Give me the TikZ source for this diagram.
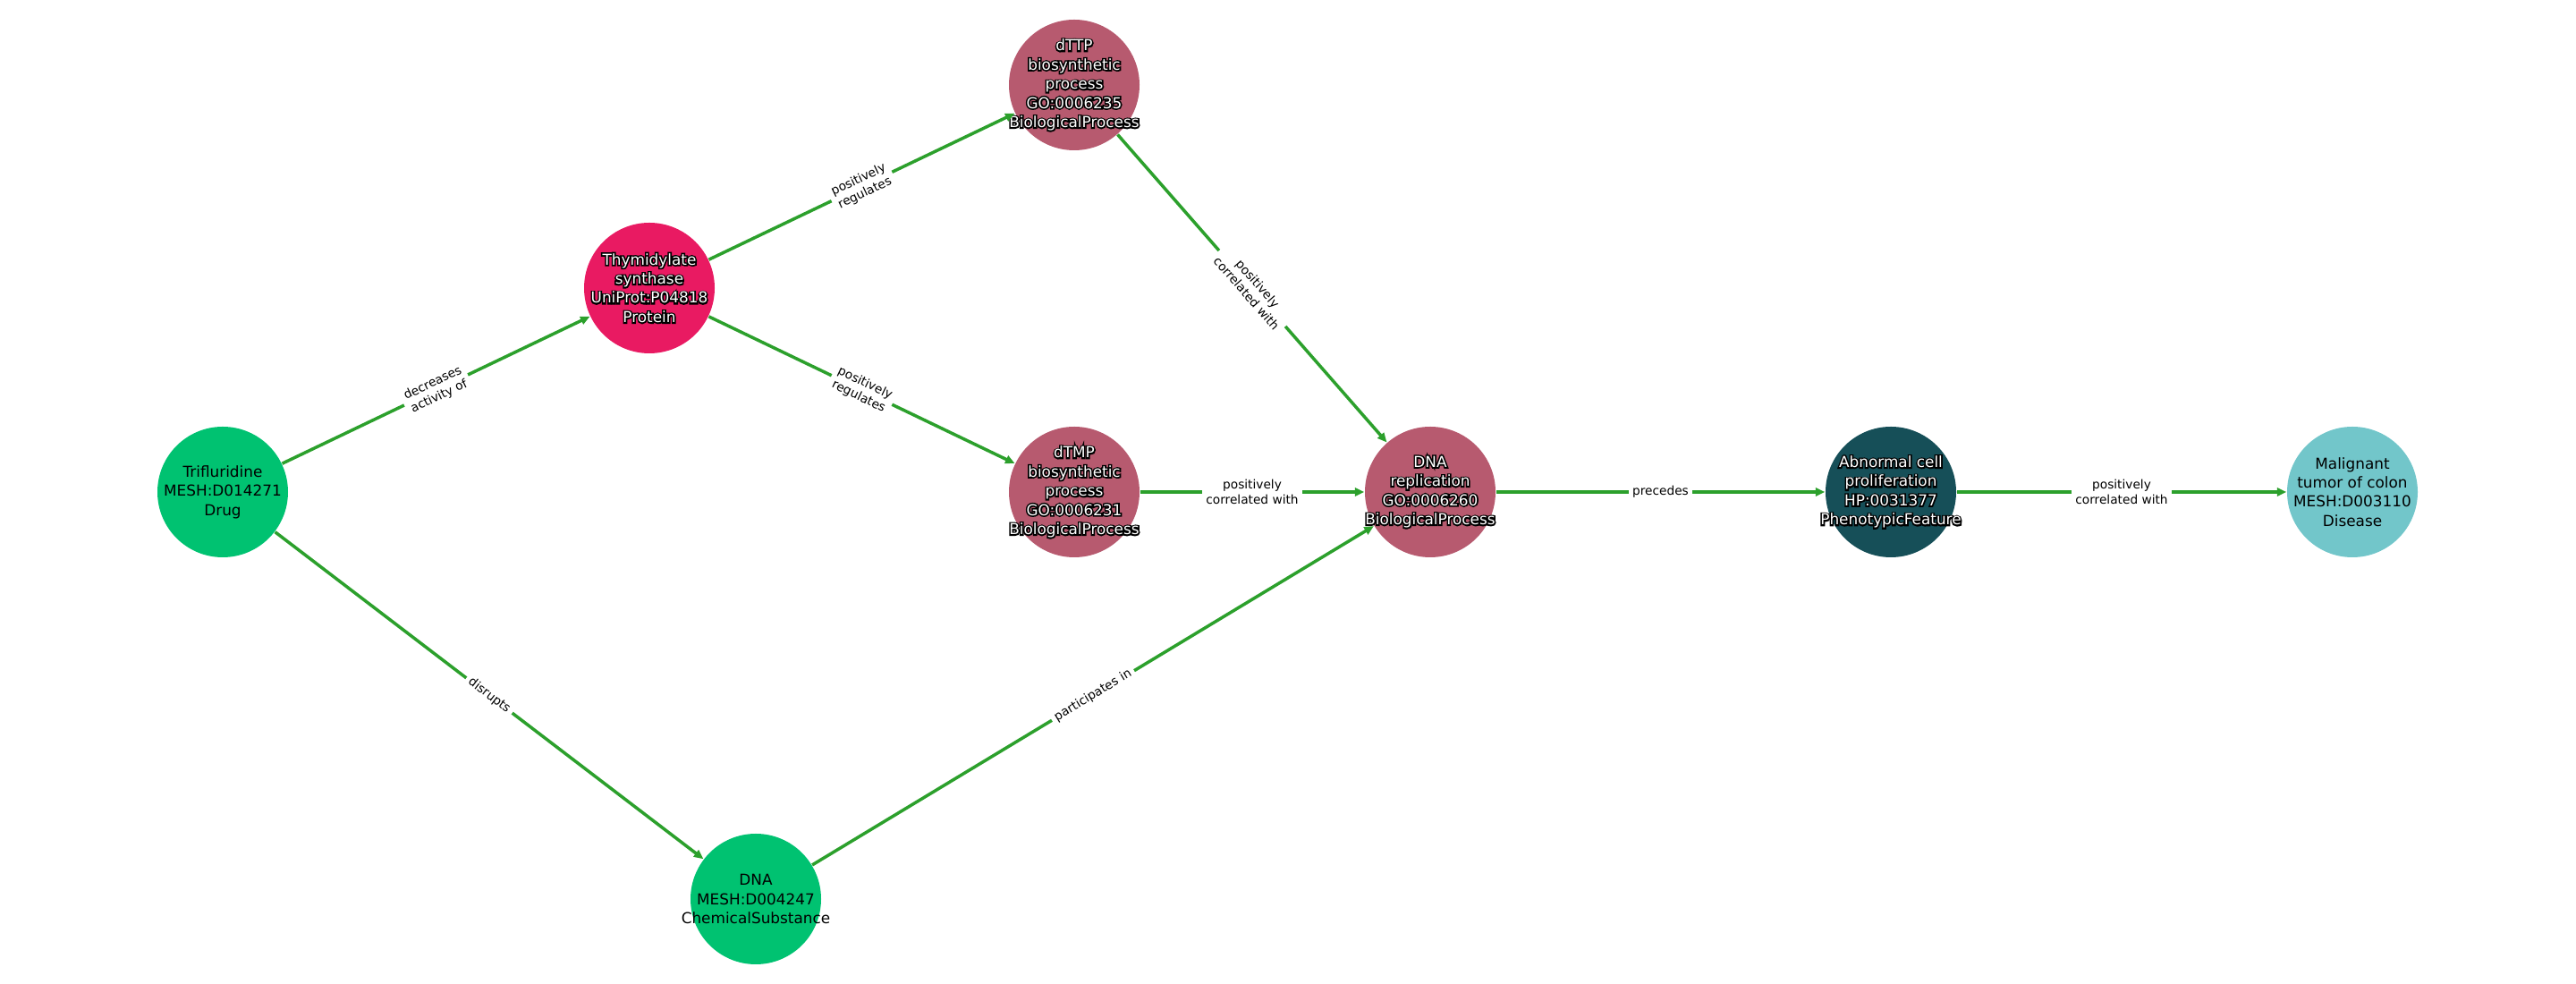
\documentclass[tikz,border=0pt]{standalone}
\usepackage{fontspec}
\setmainfont{DejaVu Sans}
\usetikzlibrary{arrows.meta}
\definecolor{cdrug}{HTML}{00C271}
\definecolor{cprot}{HTML}{E91A62}
\definecolor{cbio}{HTML}{B75A6F}
\definecolor{cphen}{HTML}{164F58}
\definecolor{cdis}{HTML}{72C6CA}
\definecolor{cedge}{HTML}{2CA02C}
\newcommand{\olt}[1]{\leavevmode\rlap{\special{pdf:literal direct 1 Tr 0.9 w 0 G}#1\special{pdf:literal direct 0 Tr}}#1}
\begin{document}
\begin{tikzpicture}[
  ent/.style={circle, minimum size=1.46cm, inner sep=0pt, draw=none},
  ntext/.style={align=center, font=\fontsize{4.8}{6.1}\selectfont, inner sep=0pt},
  wtext/.style={ntext, text=white},
  rel/.style={draw=cedge, line width=1pt, -{Triangle[length=3pt,width=2.6pt]}},
  rlab/.style={midway, sloped, fill=white, inner sep=1.3pt, align=center, font=\fontsize{3.9}{4.7}\selectfont, text=black}
]
\useasboundingbox (0,0) rectangle (28.8,11);

% entities
\node[ent, fill=cdrug] (tri) at (2.49,5.50) {};
\node[ent, fill=cprot] (ts) at (7.26,7.78) {};
\node[ent, fill=cbio] (dttp) at (12.01,10.05) {};
\node[ent, fill=cbio] (dtmp) at (12.01,5.50) {};
\node[ent, fill=cbio] (rep) at (15.99,5.50) {};
\node[ent, fill=cphen] (abn) at (21.14,5.50) {};
\node[ent, fill=cdis] (mal) at (26.30,5.50) {};
\node[ent, fill=cdrug] (dna) at (8.45,0.95) {};

% entity texts
\node[ntext] (tri-t) at (tri) {Trifluridine\\MESH:D014271\\Drug};
\node[wtext] (ts-t) at (ts) {\olt{Thymidylate}\\\olt{synthase}\\\olt{UniProt:P04818}\\\olt{Protein}};
\node[wtext] (dttp-t) at (dttp) {\olt{dTTP}\\\olt{biosynthetic}\\\olt{process}\\\olt{GO:0006235}\\\olt{BiologicalProcess}};
\node[wtext] (dtmp-t) at (dtmp) {\olt{dTMP}\\\olt{biosynthetic}\\\olt{process}\\\olt{GO:0006231}\\\olt{BiologicalProcess}};
\node[wtext] (rep-t) at (rep) {\olt{DNA}\\\olt{replication}\\\olt{GO:0006260}\\\olt{BiologicalProcess}};
\node[wtext] (abn-t) at (abn) {\olt{Abnormal cell}\\\olt{proliferation}\\\olt{HP:0031377}\\\olt{PhenotypicFeature}};
\node[ntext] (mal-t) at (mal) {Malignant\\tumor of colon\\MESH:D003110\\Disease};
\node[ntext] (dna-t) at (dna) {DNA\\MESH:D004247\\ChemicalSubstance};

% relations
\draw[rel] (tri) -- node[rlab] (l1) {decreases\\activity of} (ts);
\draw[rel] (tri) -- node[rlab] (l2) {disrupts} (dna);
\draw[rel] (ts) -- node[rlab] (l3) {positively\\regulates} (dttp);
\draw[rel] (ts) -- node[rlab] (l4) {positively\\regulates} (dtmp);
\draw[rel] (dttp) -- node[rlab] (l5) {positively\\correlated with} (rep);
\draw[rel] (dtmp) -- node[rlab] (l6) {positively\\correlated with} (rep);
\draw[rel] (dna) -- node[rlab] (l7) {participates in} (rep);
\draw[rel] (rep) -- node[rlab] (l8) {precedes} (abn);
\draw[rel] (abn) -- node[rlab] (l9) {positively\\correlated with} (mal);
\end{tikzpicture}
\end{document}
